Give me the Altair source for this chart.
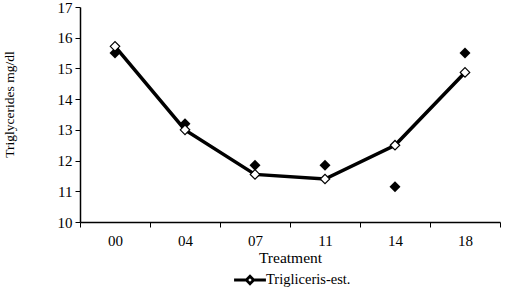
import altair as alt
import pandas as pd

treatments = ["00", "04", "07", "11", "14", "18"]
observed = [15.5, 13.2, 11.85, 11.85, 11.15, 15.5]
estimated = [15.72, 13.0, 11.55, 11.4, 12.5, 14.87]
series_name = "Trigliceris-est."
y_ticks = [10, 11, 12, 13, 14, 15, 16, 17]

df = pd.DataFrame({
    "treatment": treatments,
    "observed": observed,
    "estimated": estimated,
    "series": [series_name] * len(treatments),
})

font = "Liberation Serif"

x_enc = alt.X(
    "treatment:N",
    sort=treatments,
    scale=alt.Scale(paddingInner=0, paddingOuter=0),
    axis=alt.Axis(
        title="Treatment", labelAngle=0, tickBand="extent",
        labelFontSize=15, titleFontSize=15.5, titleFontWeight="normal",
        labelPadding=6, titlePadding=2, tickSize=5,
    ),
)
y_scale = alt.Scale(domain=[10, 17], nice=False, zero=False)
y_axis = alt.Axis(
    title="Triglycerides mg/dl", values=y_ticks, tickCount=8, grid=False,
    labelOverlap=False, labelFontSize=15, titleFontSize=13.5,
    titleFontWeight="normal", tickSize=5, labelPadding=3,
    titleX=-71, titleY=97, titleBaseline="middle",
)


def y_enc(field):
    return alt.Y(f"{field}:Q", scale=y_scale, axis=y_axis)


legend_path = "M-2.6,0H-0.6M0.6,0H2.6M0,-0.6L0.6,0L0,0.6L-0.6,0Z"

line = alt.Chart(df).mark_line(strokeWidth=3.5).encode(
    x=x_enc,
    y=y_enc("estimated"),
    color=alt.Color(
        "series:N",
        scale=alt.Scale(range=["black"]),
        legend=alt.Legend(
            title=None, orient="none", legendX=162, legendY=265,
            symbolType=legend_path, symbolSize=150, symbolStrokeWidth=2.8,
            symbolFillColor="white", labelFontSize=14.5, labelFont=font,
            labelColor="black", symbolOffset=0, labelOffset=8,
        ),
    ),
)

est_pts = alt.Chart(df).mark_point(
    shape="diamond", filled=False, fill="white", fillOpacity=1,
    stroke="black", strokeWidth=1.2, size=90, opacity=1,
).encode(x=x_enc, y=y_enc("estimated"))

obs_pts = alt.Chart(df).mark_point(
    shape="diamond", filled=True, color="black", size=120, opacity=1,
).encode(x=x_enc, y=y_enc("observed"))

chart = (
    alt.layer(obs_pts, line, est_pts)
    .properties(
        width=420, height=215,
        autosize=alt.AutoSizeParams(type="none"),
        padding={"left": 80, "top": 7, "right": 7, "bottom": 65},
        background="white",
    )
    .configure_view(stroke=None)
    .configure_axis(
        domainColor="black", tickColor="black", labelColor="black",
        titleColor="black", labelFont=font, titleFont=font, domainWidth=1.5,
    )
)

chart.save("out.html", embed_options={"renderer": "svg", "actions": False})
